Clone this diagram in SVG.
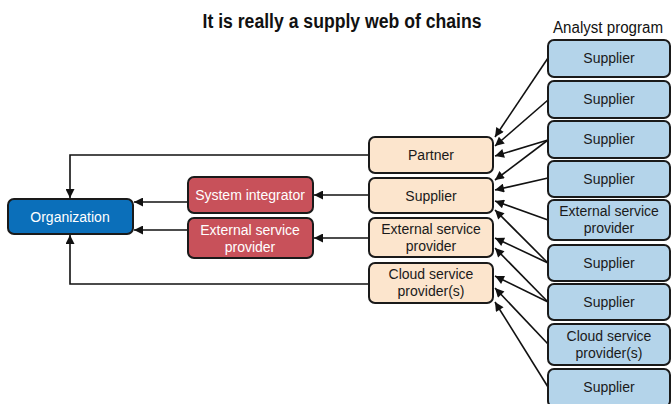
<svg xmlns="http://www.w3.org/2000/svg" width="671" height="404" viewBox="0 0 671 404">
<defs>
<style>
.box{stroke:#1a1a1a;stroke-width:2}
.blue{fill:#b4d4ea}
.peach{fill:#fce5cd}
.red{fill:#c8515a}
.org{fill:#0b6fba}
.t{font-family:"Liberation Sans",Arial,sans-serif;font-size:14px;text-anchor:middle;fill:#1a1a1a}
.w{fill:#ffffff}
.c{fill:none;stroke:#111;stroke-width:1.6}
</style>
<marker id="ah" viewBox="0 0 10 10" refX="10" refY="5" markerWidth="10" markerHeight="9" orient="auto" markerUnits="userSpaceOnUse">
<path d="M0,0 L10,5 L0,10 z" fill="#111"/>
</marker>
</defs>
<rect width="671" height="404" fill="#ffffff"/>
<text x="342" y="28" font-family="Liberation Sans,Arial,sans-serif" font-size="20" font-weight="bold" text-anchor="middle" textLength="279" lengthAdjust="spacingAndGlyphs" fill="#111">It is really a supply web of chains</text>
<text x="608" y="33" font-family="Liberation Sans,Arial,sans-serif" font-size="16" text-anchor="middle" textLength="110" lengthAdjust="spacingAndGlyphs" fill="#111">Analyst program</text>

<g id="connectors">
<path class="c" d="M369,155 H70 V198" marker-end="url(#ah)"/>
<path class="c" d="M369,284 H70 V235" marker-end="url(#ah)"/>
<path class="c" d="M188,202 H134" marker-end="url(#ah)"/>
<path class="c" d="M188,230 H134" marker-end="url(#ah)"/>
<path class="c" d="M369,195 H314" marker-end="url(#ah)"/>
<path class="c" d="M369,238 H314" marker-end="url(#ah)"/>
<path class="c" d="M548,58 L495,137" marker-end="url(#ah)"/>
<path class="c" d="M548,100 L495,146" marker-end="url(#ah)"/>
<path class="c" d="M548,140 L495,156" marker-end="url(#ah)"/>
<path class="c" d="M548,140 L495,180" marker-end="url(#ah)"/>
<path class="c" d="M548,178 L495,190" marker-end="url(#ah)"/>
<path class="c" d="M548,220 L495,201" marker-end="url(#ah)"/>
<path class="c" d="M548,263 L495,210" marker-end="url(#ah)"/>
<path class="c" d="M548,263 L495,238" marker-end="url(#ah)"/>
<path class="c" d="M548,302 L495,248" marker-end="url(#ah)"/>
<path class="c" d="M548,302 L495,276" marker-end="url(#ah)"/>
<path class="c" d="M548,344 L495,288" marker-end="url(#ah)"/>
<path class="c" d="M548,387 L495,302" marker-end="url(#ah)"/>
</g>

<g id="organization"><rect class="box org" x="8" y="199" width="125" height="35" rx="6"/><text class="t w" x="70" y="222">Organization</text></g>

<g id="system-integrator"><rect class="box red" x="188" y="177" width="125" height="36" rx="6"/><text class="t w" x="250" y="200">System integrator</text></g>
<g id="external-red"><rect class="box red" x="188" y="218" width="125" height="40" rx="6"/><text class="t w" x="250" y="235">External service</text><text class="t w" x="250" y="252">provider</text></g>

<g id="partner"><rect class="box peach" x="369" y="137" width="124" height="36" rx="6"/><text class="t" x="431" y="160">Partner</text></g>
<g id="supplier-mid"><rect class="box peach" x="369" y="178" width="124" height="35" rx="6"/><text class="t" x="431" y="201">Supplier</text></g>
<g id="external-mid"><rect class="box peach" x="369" y="218" width="124" height="39" rx="6"/><text class="t" x="431" y="234">External service</text><text class="t" x="431" y="251">provider</text></g>
<g id="cloud-mid"><rect class="box peach" x="369" y="263" width="124" height="40" rx="6"/><text class="t" x="431" y="279">Cloud service</text><text class="t" x="431" y="296">provider(s)</text></g>

<g id="b1"><rect class="box blue" x="548" y="40" width="122" height="37" rx="6"/><text class="t" x="609" y="63">Supplier</text></g>
<g id="b2"><rect class="box blue" x="548" y="81" width="122" height="37" rx="6"/><text class="t" x="609" y="104">Supplier</text></g>
<g id="b3"><rect class="box blue" x="548" y="121" width="122" height="37" rx="6"/><text class="t" x="609" y="144">Supplier</text></g>
<g id="b4"><rect class="box blue" x="548" y="161" width="122" height="36" rx="6"/><text class="t" x="609" y="184">Supplier</text></g>
<g id="b5"><rect class="box blue" x="548" y="200" width="122" height="40" rx="6"/><text class="t" x="609" y="216">External service</text><text class="t" x="609" y="233">provider</text></g>
<g id="b6"><rect class="box blue" x="548" y="245" width="122" height="36" rx="6"/><text class="t" x="609" y="268">Supplier</text></g>
<g id="b7"><rect class="box blue" x="548" y="284" width="122" height="36" rx="6"/><text class="t" x="609" y="307">Supplier</text></g>
<g id="b8"><rect class="box blue" x="548" y="324" width="122" height="41" rx="6"/><text class="t" x="609" y="341">Cloud service</text><text class="t" x="609" y="358">provider(s)</text></g>
<g id="b9"><rect class="box blue" x="548" y="369" width="122" height="38" rx="6"/><text class="t" x="609" y="392">Supplier</text></g>
</svg>
